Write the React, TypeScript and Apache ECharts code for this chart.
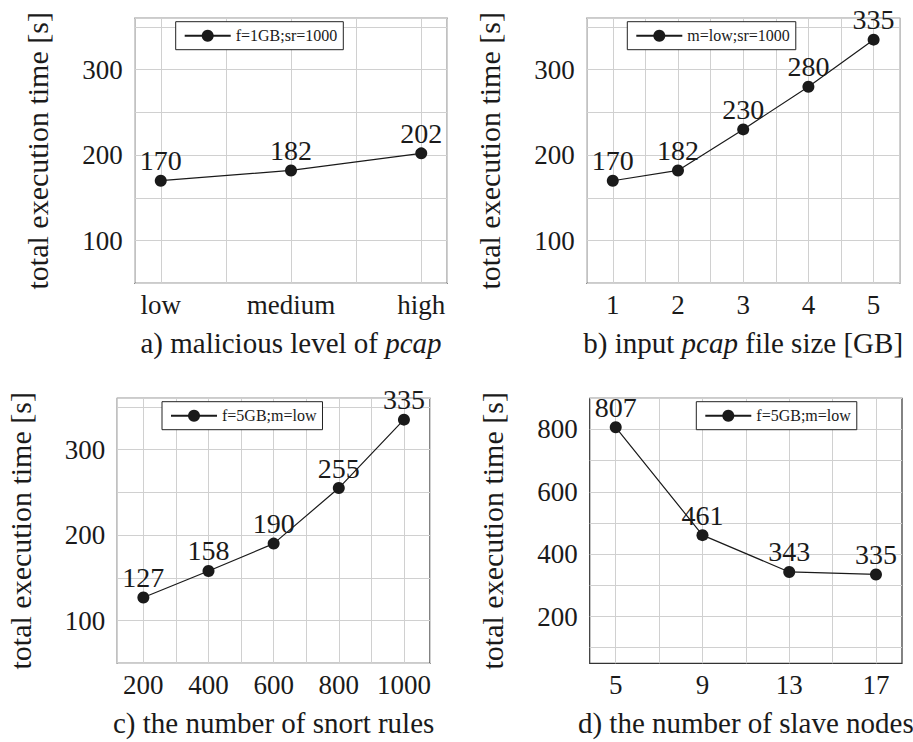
import React, { useEffect, useRef } from "react";
import * as echarts from "echarts";

const catsA = ["low", "medium", "high"];
const valsA = [170, 182, 202];
const xB = [1, 2, 3, 4, 5];
const valsB = [170, 182, 230, 280, 335];
const xC = [200, 400, 600, 800, 1000];
const valsC = [127, 158, 190, 255, 335];
const xD = [5, 9, 13, 17];
const valsD = [807, 461, 343, 335];

const nameA = "f=1GB;sr=1000";
const nameB = "m=low;sr=1000";
const nameC = "f=5GB;m=low";
const nameD = "f=5GB;m=low ";

const FONT = "Liberation Serif";
const INK = "#1a1a1a";
const GRID = "#d0d0d0";
const NONE = "rgba(0,0,0,0)";

const near = (v: number, list: number[]) => list.find((x) => Math.abs(x - v) < 1e-6);

export default function App() {
  const ref = useRef<HTMLDivElement>(null);
  useEffect(() => {
    if (!ref.current) return;
    const chart = echarts.init(ref.current, undefined, { renderer: "svg" });

    const grids = [
      { left: 134.7, top: 18.3, width: 312.6, height: 265 },
      { left: 586.7, top: 18.3, width: 313, height: 265 },
      { left: 117.3, top: 398.3, width: 312.7, height: 265 },
      { left: 589.7, top: 398.3, width: 312.3, height: 265 },
    ];

    const tickStyle = { fontFamily: FONT, fontSize: 27, color: INK };

    const yName = "total execution time [s]";
    const mkY = (i: number, min: number, max: number, colors: string[], step: number) => ({
      type: "value",
      gridIndex: i,
      min,
      max,
      interval: 50,
      name: yName,
      nameLocation: "middle",
      nameGap: 82,
      nameTextStyle: { fontFamily: FONT, fontSize: 30, color: INK },
      axisLine: { show: false },
      axisTick: { show: false },
      axisLabel: {
        ...tickStyle,
        margin: 12,
        formatter: (v: number) => (Math.abs(v % step) < 1e-6 && v > min && v < max ? String(v) : ""),
      },
      splitLine: { show: true, lineStyle: { color: colors, width: 1 } },
    });

    const xNameStyle = {
      fontFamily: FONT,
      fontSize: 29,
      color: INK,
      rich: { i: { fontFamily: FONT, fontSize: 29, color: INK, fontStyle: "italic" } },
    };

    const xCommon = (i: number) => ({
      type: "value",
      gridIndex: i,
      nameLocation: "middle",
      nameGap: 45,
      nameTextStyle: xNameStyle,
      axisLine: { show: false },
      axisTick: { show: false },
    });

    const mkSeries = (i: number, name: string, data: number[][]) => ({
      type: "line",
      name,
      xAxisIndex: i,
      yAxisIndex: i,
      data,
      symbol: "circle",
      symbolSize: 12,
      color: INK,
      lineStyle: { color: INK, width: 1.2 },
      itemStyle: { color: INK },
      label: { show: true, position: "top", distance: 0, fontFamily: FONT, fontSize: 28, color: INK },
    });

    const mkLegend = (name: string, left: number, top: number) => ({
      data: [name],
      left,
      top,
      orient: "horizontal",
      backgroundColor: "#fff",
      borderColor: "#222",
      borderWidth: 1,
      borderRadius: 0,
      padding: [6, 6, 6, 8],
      itemWidth: 46,
      itemHeight: 15,
      selectedMode: false,
      textStyle: { fontFamily: FONT, fontSize: 16, color: INK },
      formatter: (n: string) => n.trim(),
    });

    chart.setOption({
      animation: false,
      backgroundColor: "#fff",
      textStyle: { fontFamily: FONT },
      grid: grids.map((g) => ({
        ...g,
        show: true,
        borderColor: "#333",
        borderWidth: 1.2,
        backgroundColor: NONE,
        outerBoundsMode: "none",
        containLabel: false,
      })),
      xAxis: [
        {
          ...xCommon(0),
          min: -0.2,
          max: 2.2,
          splitNumber: 5,
          name: "a) malicious level of {i|pcap}",
          axisLabel: {
            ...tickStyle,
            margin: 8,
            formatter: (v: number) => {
              const k = Math.round(v);
              return Math.abs(v - k) < 1e-6 && k >= 0 && k < catsA.length ? catsA[k] : "";
            },
          },
          splitLine: { show: true, lineStyle: { color: GRID, width: 1 } },
        },
        {
          ...xCommon(1),
          min: 0.6,
          max: 5.4,
          splitNumber: 10,
          name: "b) input {i|pcap} file size [GB]",
          axisLabel: {
            ...tickStyle,
            margin: 8,
            formatter: (v: number) => {
              const m = near(v, xB);
              return m !== undefined ? String(m) : "";
            },
          },
          splitLine: { show: true, lineStyle: { color: GRID, width: 1 } },
        },
        {
          ...xCommon(2),
          min: 120,
          max: 1080,
          splitNumber: 10,
          name: "c) the number of snort rules",
          axisLabel: {
            ...tickStyle,
            margin: 8,
            formatter: (v: number) => {
              const m = near(v, xC);
              return m !== undefined ? String(m) : "";
            },
          },
          splitLine: { show: true, lineStyle: { color: GRID, width: 1 } },
        },
        {
          ...xCommon(3),
          min: 3.8,
          max: 18.2,
          interval: 0.2,
          name: "d) the number of slave nodes",
          axisLabel: {
            ...tickStyle,
            margin: 8,
            formatter: (v: number) => {
              const m = near(v, xD);
              return m !== undefined ? String(m) : "";
            },
          },
          splitLine: {
            show: true,
            lineStyle: { color: [NONE, NONE, NONE, NONE, NONE, NONE, GRID, NONE, NONE, NONE], width: 1 },
          },
        },
      ],
      yAxis: [
        mkY(0, 50, 360, [GRID], 100),
        mkY(1, 50, 360, [GRID], 100),
        mkY(2, 50, 360, [GRID], 100),
        mkY(3, 50, 900, [NONE, GRID], 200),
      ],
      legend: [
        mkLegend(nameA, 175.7, 21.7),
        mkLegend(nameB, 627.3, 21.7),
        mkLegend(nameC, 162, 401.7),
        mkLegend(nameD, 696.3, 401.7),
      ],
      series: [
        mkSeries(0, nameA, valsA.map((v, k) => [k, v])),
        mkSeries(1, nameB, valsB.map((v, k) => [xB[k], v])),
        mkSeries(2, nameC, valsC.map((v, k) => [xC[k], v])),
        mkSeries(3, nameD, valsD.map((v, k) => [xD[k], v])),
      ],
    });
    return () => chart.dispose();
  }, []);
  return (
    <div
      ref={ref}
      style={{ position: "fixed", left: 0, top: 0, width: 913, height: 742, background: "#fff" }}
    />
  );
}
